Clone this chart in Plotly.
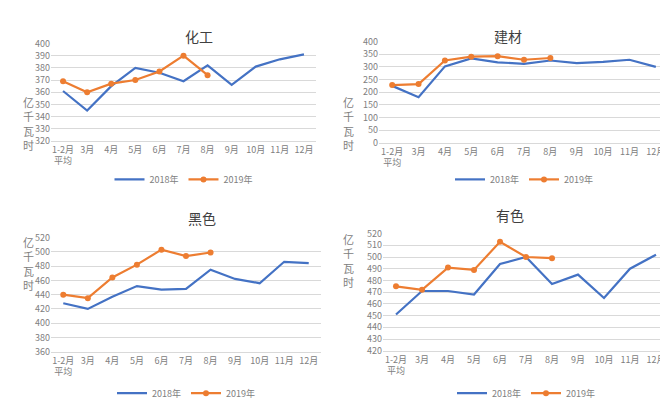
import plotly.graph_objects as go

months = ["1-2月<br>平均","3月","4月","5月","6月","7月","8月","9月","10月","11月","12月"]
titles = ["化工","建材","黑色","有色"]
s2018 = [
    [361,345,365,380,376,369,382,366,381,387,391],
    [225,180,302,333,318,312,325,315,320,328,300],
    [428,420,437,452,447,448,475,462,456,486,484],
    [451,471,471,468,494,500,477,485,465,490,502],
]
s2019 = [
    [369,360,367,370,377,390,374],
    [228,232,325,340,342,328,335],
    [440,435,464,482,503,494,499],
    [475,472,491,489,513,500,499],
]
ranges = [(320,400,10),(0,400,50),(360,520,20),(420,520,10)]

W, H = 668, 400
boxes = [(43,308,36,135,16,174),(371,661,34,137,16,174),
         (43,313,233,349,213,391),(375,661,229,348,210,391)]
ylab_x = [13, 340, 13, 340]
BLUE, ORANGE = "#4472C4", "#ED7D31"
fig = go.Figure()
grey = "#808080"
for i in range(4):
    x0,x1,yt,yb,ty,ly = boxes[i]
    ax = "" if i == 0 else str(i+1)
    lg = "legend" if i == 0 else f"legend{i+1}"
    fig.add_trace(go.Scatter(x=months, y=s2018[i], mode="lines", name="2018年",
        line=dict(color=BLUE, width=2.2), xaxis="x"+ax, yaxis="y"+ax, legend=lg))
    fig.add_trace(go.Scatter(x=months[:len(s2019[i])], y=s2019[i], mode="lines+markers", name="2019年",
        line=dict(color=ORANGE, width=2.2), marker=dict(size=6), xaxis="x"+ax, yaxis="y"+ax, legend=lg))
    lo, hi, dt = ranges[i]
    fig.update_layout(**{
        "xaxis"+ax: dict(domain=[x0/W, x1/W], anchor="y"+ax, showgrid=False, showline=True,
                         range=[-0.5, 10.5], automargin=False,
                         linecolor="#d9d9d9", tickfont=dict(size=9, color=grey), ticks=""),
        "yaxis"+ax: dict(domain=[1-yb/H, 1-yt/H], anchor="x"+ax, range=[lo, hi], dtick=dt,
                         automargin=False, showline=False,
                         gridcolor="#d9d9d9", tickfont=dict(size=9, color=grey), zeroline=False),
        lg: dict(orientation="h", x=(x0+x1)/2/W, xanchor="center", y=1-ly/H, yanchor="middle",
                 font=dict(size=9, color=grey), bgcolor="rgba(0,0,0,0)"),
    })
    fig.add_annotation(text=titles[i], x=(x0+x1)/2/W, y=1-ty/H, xref="paper", yref="paper",
                       showarrow=False, font=dict(size=14, color="#404040"))
    fig.add_annotation(text="亿<br>千<br>瓦<br>时", x=ylab_x[i]/W, y=1-(yt+yb)/2/H, xref="paper",
                       yref="paper", showarrow=False, font=dict(size=11, color=grey))

fig.update_layout(width=W, height=H, margin=dict(l=0,r=0,t=0,b=0), plot_bgcolor="white",
                  paper_bgcolor="white", font=dict(family="Noto Sans CJK SC"))
fig.write_html("out.html")
